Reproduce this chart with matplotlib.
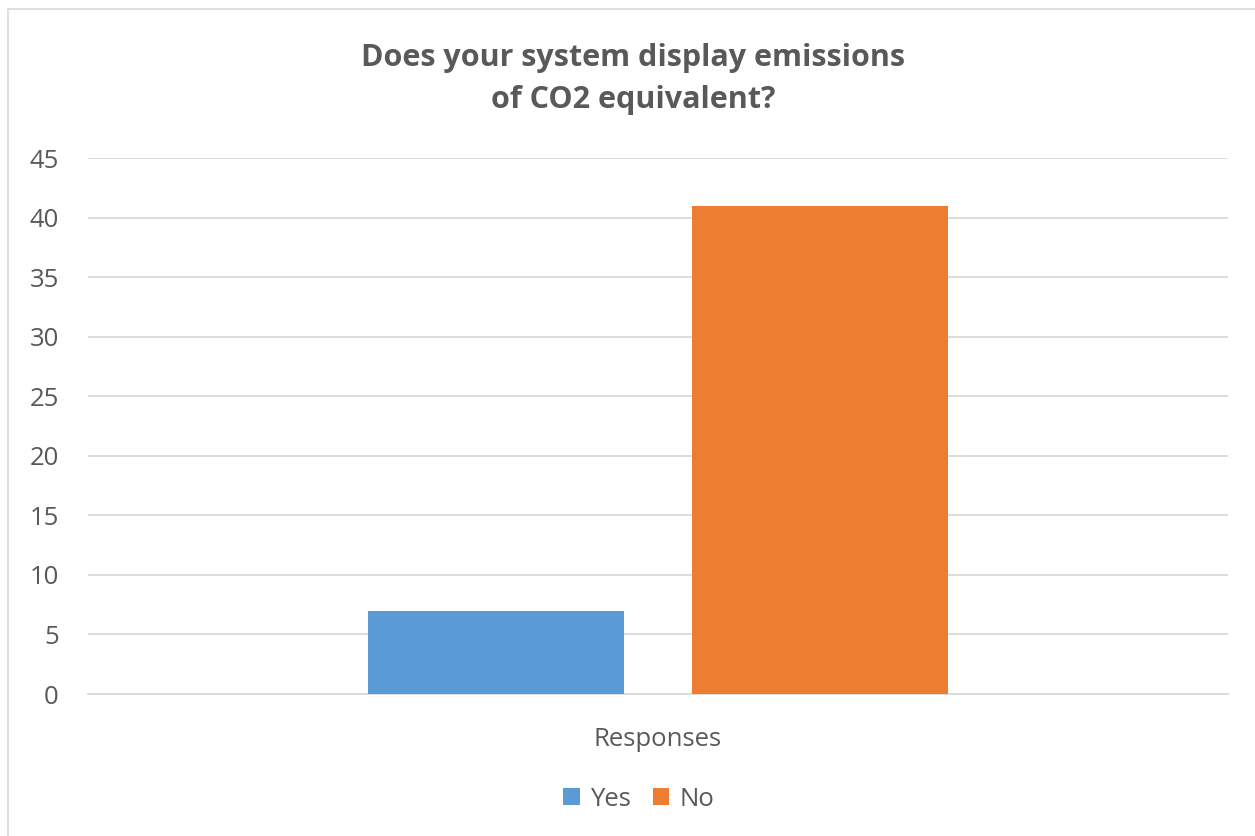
"""Survey bar chart: CO2 equivalent emissions display."""

import matplotlib

matplotlib.use("Agg")
import matplotlib.pyplot as plt
from matplotlib.patches import Rectangle

categories = ["Responses"]
series_names = ["Yes", "No"]
series_values = [[7], [41]]
series_colors = ["#5B9BD5", "#ED7D31"]
y_ticks = [0, 5, 10, 15, 20, 25, 30, 35, 40, 45]

TEXT = "#595959"
GRID = "#D9D9D9"
FONT = ["Open Sans", "DejaVu Sans"]

plt.rcParams["font.family"] = FONT

W, H = 1255, 836
fig = plt.figure(figsize=(W / 100, H / 100), dpi=100)

# chart frame
fig.patches.append(
    Rectangle((8 / W, -0.01), 1.05, (H - 9) / H + 0.01, transform=fig.transFigure,
              fill=False, edgecolor="#D9D9D9", linewidth=1.2)
)

left, right = 88 / W, 1228 / W
bottom, top = 1 - 694 / H, 1 - 158 / H
ax = fig.add_axes([left, bottom, right - left, top - bottom])

bar_width = 0.2246
offsets = [-0.1421, 0.1421]
for name, values, color, off in zip(series_names, series_values, series_colors, offsets):
    ax.bar([i + off for i in range(len(categories))], values, width=bar_width,
           color=color, label=name, zorder=3)

ax.set_xlim(-0.5, len(categories) - 0.5)
ax.set_ylim(0, 45)
ax.set_yticks(y_ticks)
ax.yaxis.grid(True, color=GRID, linewidth=1.3, zorder=0)
ax.set_xticks(range(len(categories)))
ax.set_xticklabels(categories)
ax.tick_params(axis="both", length=0, labelsize=18.5, colors=TEXT)
ax.tick_params(axis="y", pad=21)
ax.tick_params(axis="x", pad=24)
for side in ["top", "right", "left"]:
    ax.spines[side].set_visible(False)
ax.spines["bottom"].set_color(GRID)
ax.spines["bottom"].set_linewidth(1.3)

fig.text(633 / W, 1 - 79 / H, "Does your system display emissions\nof CO2 equivalent?",
         ha="center", va="center", fontsize=22, fontweight="bold", color=TEXT,
         linespacing=1.55)

ax.legend(loc="center", bbox_to_anchor=(0.483, (1 - 799 / H - bottom) / (top - bottom)),
          ncol=2, frameon=False, fontsize=18.5, labelcolor=TEXT,
          handlelength=0.65, handleheight=0.65, handletextpad=0.4, columnspacing=0.85)

fig.savefig("out.png", dpi=100)
plt.close(fig)
